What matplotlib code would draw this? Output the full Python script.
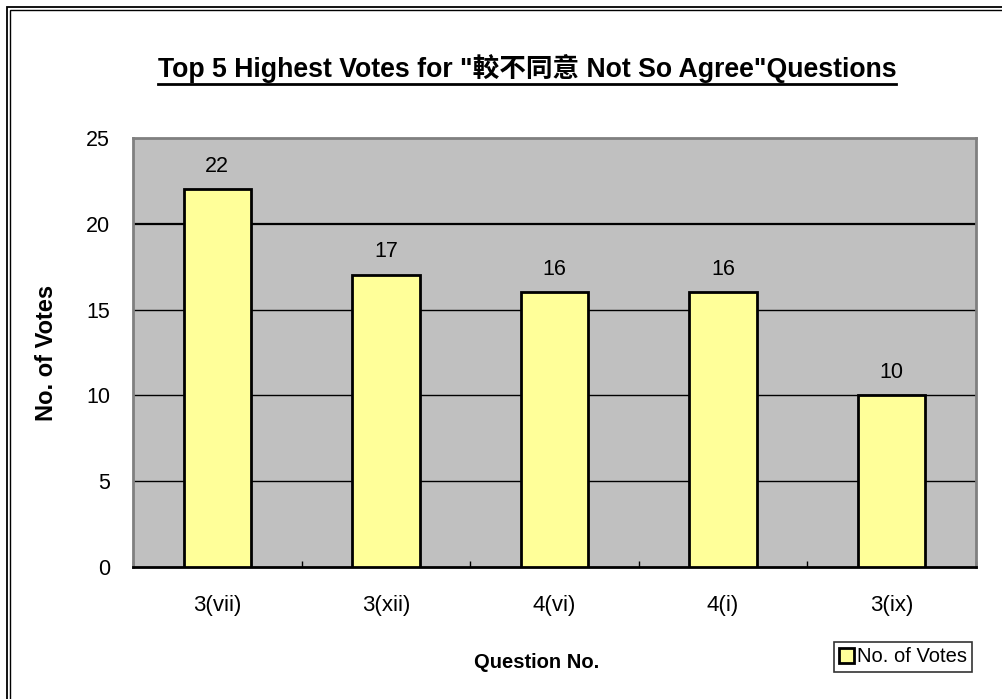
import numpy as np
import matplotlib.pyplot as plt
from matplotlib.patches import Rectangle
from matplotlib.lines import Line2D

questions = ['3(vii)', '3(xii)', '4(vi)', '4(i)', '3(ix)']
votes = [22, 17, 16, 16, 10]
yticks = [0, 5, 10, 15, 20, 25]

plt.rcParams['font.family'] = ['Liberation Sans', 'Noto Sans CJK TC', 'DejaVu Sans']

W, H = 1003, 699
fig = plt.figure(figsize=(W / 100, H / 100), dpi=100)
fig.patch.set_facecolor('white')

# outer double frame (runs off the right and bottom edges)
for off, lw in [(7, 1.3), (10, 1.0)]:
    fig.add_artist(Rectangle((off / W, -0.05), 1.2, 1.05 - off / H,
                             transform=fig.transFigure, fill=False, ec='black', lw=lw))

ax = fig.add_axes([133 / W, 1 - 567 / H, (976 - 133) / W, (567 - 138) / H])
ax.set_facecolor('#C0C0C0')
x = np.arange(len(questions))
ax.set_xlim(-0.5, len(questions) - 0.5)
ax.set_ylim(0, 25)
ax.set_yticks(yticks)
for t in yticks[1:-1]:
    ax.axhline(t, color='black', lw=1.6 if t == 20 else 1.0, zorder=1)

bars = ax.bar(x, votes, width=0.4, color='#FFFF99', edgecolor='black', lw=2, zorder=3,
              label='No. of Votes')
for xi, v in zip(x, votes):
    ax.text(xi, v + 0.75, str(v), ha='center', va='bottom', fontsize=15.5)

ax.set_xticks(x)
ax.set_xticklabels(questions, fontsize=16)
ax.set_xticks(np.arange(-0.5, len(questions)), minor=True)
ax.tick_params(axis='x', which='major', length=0, pad=20)
ax.tick_params(axis='x', which='minor', direction='in', length=4, width=1)
ax.tick_params(axis='y', length=0, labelsize=15.5, pad=16.5)
for s in ['top', 'right', 'left']:
    ax.spines[s].set_color('#808080')
    ax.spines[s].set_linewidth(2)
ax.spines['bottom'].set_color('black')
ax.spines['bottom'].set_linewidth(2)

ax.set_ylabel('No. of Votes', fontsize=17, fontweight='bold')
ax.yaxis.set_label_coords(-(133 - 58) / (976 - 133), 0.5)
fig.text(537 / W, 1 - 663 / H, 'Question No.', ha='center', va='center',
         fontsize=14.5, fontweight='bold')

title = fig.text(527 / W, 1 - 69 / H, 'Top 5 Highest Votes for "較不同意 Not So Agree"Questions',
                 ha='center', va='center', fontsize=19.2, fontweight='bold')
fig.canvas.draw()
bb = title.get_window_extent()
fig.add_artist(Line2D([bb.x0 / W, bb.x1 / W], [(bb.y0 - 1) / H] * 2,
                      transform=fig.transFigure, color='black', lw=2))

leg = ax.legend(handles=[bars], loc='center', bbox_to_anchor=(903 / W, 1 - 657 / H),
                bbox_transform=fig.transFigure, fancybox=False, frameon=True,
                edgecolor='black', fontsize=14.5, handlelength=0.75, handleheight=0.75,
                handletextpad=0.15, borderpad=0.25, borderaxespad=0)
leg.get_frame().set_linewidth(1.2)

fig.savefig('out.png', dpi=100)
